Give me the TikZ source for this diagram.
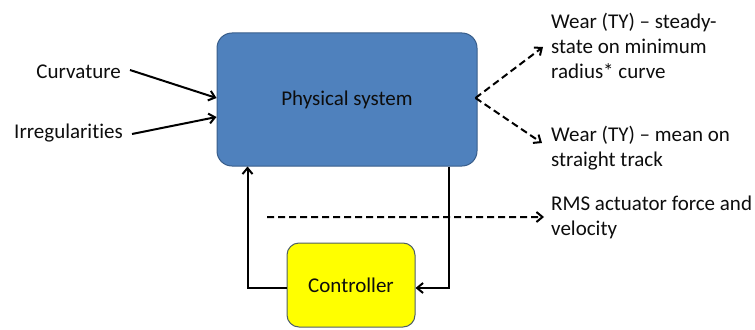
\documentclass[tikz,border=0pt]{standalone}
\usepackage{fontspec}
\setmainfont{Carlito}[Ligatures=NoCommon]
\usetikzlibrary{positioning, arrows.meta, calc}

\definecolor{sysblue}{HTML}{4F81BD}
\definecolor{sysedge}{HTML}{385D8A}
\definecolor{ctrlfill}{HTML}{FFFF00}
\definecolor{ctrledge}{HTML}{4E6068}

\begin{document}
\begin{tikzpicture}[x=1bp, y=1bp,
    every node/.style={font=\fontsize{21bp}{25bp}\selectfont, text=black!95},
    sysbox/.style={draw=sysedge, fill=sysblue, line width=1bp, rounded corners=15bp,
        minimum width=260bp, minimum height=133bp},
    ctrlbox/.style={draw=ctrledge, fill=ctrlfill, line width=1bp, rounded corners=12bp,
        minimum width=128bp, minimum height=84bp},
    lbl/.style={inner sep=0pt, align=left},
    flow/.style={line width=2bp, -{Straight Barb[length=6bp, width=10bp]}},
    dashflow/.style={flow, dash pattern=on 7bp off 4bp}]
    \useasboundingbox (0,0) rectangle (755,329);

    % blocks
    \node[sysbox] (sys) at (347,229.5) {Physical system};
    \node[ctrlbox] (ctrl) at (351,44) {Controller};

    % inputs
    \node[lbl, anchor=east] (curv) at (121,257) {Curvature};
    \node[lbl, anchor=east] (irr) at (123,196) {Irregularities};
    \draw[flow] ([xshift=9bp, yshift=2bp]curv.east) -- ([yshift=1.5bp]sys.west);
    \draw[flow] ([xshift=9bp, yshift=-1bp]irr.east) -- ([yshift=-17.5bp]sys.west);

    % outputs
    \node[lbl, anchor=west] (wearcurve) at (551,283) {Wear (TY) -- steady-\\state on minimum\\radius* curve};
    \node[lbl, anchor=west] (wearstraight) at (551,180.5) {Wear (TY) -- mean on\\straight track};
    \node[lbl, anchor=west] (rms) at (551,111.5) {RMS actuator force and\\velocity};
    \draw[dashflow] ([xshift=-2bp, yshift=1.5bp]sys.east) -- ([xshift=-8bp, yshift=-1bp]wearcurve.west);
    \draw[dashflow] ([xshift=-2bp, yshift=1.5bp]sys.east) -- ([xshift=-9bp, yshift=5.5bp]wearstraight.west);
    \coordinate (rmsfrom) at (267,112);
    \draw[dashflow] (rmsfrom) -- ([xshift=-7bp, yshift=0.5bp]rms.west);

    % feedback loop
    \draw[flow] ([yshift=-3bp]ctrl.west) -| ([xshift=31bp]sys.south west);
    \draw[flow] ([xshift=-29bp]sys.south east) |- ([yshift=-3bp]ctrl.east);
\end{tikzpicture}
\end{document}
